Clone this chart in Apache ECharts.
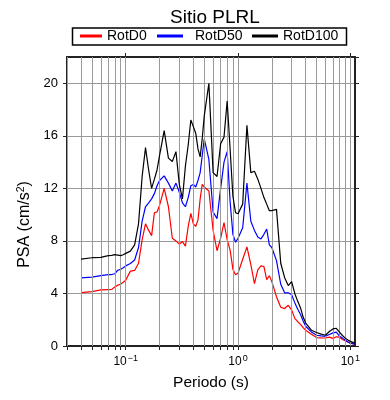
<!DOCTYPE html>
<html><head><meta charset="utf-8">
<script src="https://cdn.jsdelivr.net/npm/echarts@6/dist/echarts.min.js"></script>
<style>html,body{margin:0;padding:0;background:#fff}#c{width:390px;height:400px}</style>
</head><body><div id="c"></div>
<script>
const periods = [0.04,0.05,0.06,0.07,0.075,0.08,0.085,0.09,0.095,
  0.1,0.11,0.12,0.13,0.14,0.15,0.16,0.17,0.18,0.19,0.2,
  0.22,0.24,0.26,0.28,0.3,
  0.32,0.34,0.36,0.38,0.4,0.42,0.44,0.46,0.48,0.5,
  0.55,0.6,0.65,0.7,0.75,0.8,0.85,0.9,0.95,1.0,
  1.1,1.2,1.3,1.4,1.5,1.6,1.7,1.8,1.9,2.0,
  2.2,2.4,2.6,2.8,3.0,3.2,3.4,3.6,3.8,4.0,
  4.5,5.0,5.5,6.0,6.5,7.0,7.5,8.0,8.5,9.0,9.5,10,11];
const rotd0 = [4.06,4.14,4.27,4.29,4.3,4.5,4.63,4.7,4.85,
  5.0,5.7,5.75,6.3,8.1,9.3,8.8,8.4,10.15,10.2,10.7,
  12.0,10.6,8.2,8.0,7.75,
  7.95,7.6,9.1,10.1,9.3,9.1,9.6,11.2,12.3,12.1,
  11.8,8.8,7.25,8.2,9.4,8.1,7.3,5.85,5.42,5.55,
  6.6,7.55,6.2,4.75,5.8,6.1,6.05,5.05,5.35,4.9,
  3.75,2.95,2.85,3.1,2.75,2.1,1.85,1.65,1.4,1.2,
  0.9,0.64,0.62,0.61,0.68,0.58,0.7,0.68,0.5,0.4,0.31,0.22,0.13];
const rotd50 = [5.19,5.24,5.36,5.43,5.44,5.5,5.77,5.83,5.95,
  6.1,6.28,6.55,7.5,9.5,10.6,10.9,11.2,11.6,12.2,12.6,
  12.95,12.4,11.8,12.4,11.7,
  10.9,10.6,11.3,12.2,12.3,12.1,12.6,13.2,14.5,15.76,
  14.2,10.2,9.7,12.0,14.0,14.8,11.0,8.5,7.9,8.2,
  9.0,12.4,9.5,8.8,8.3,8.15,8.5,8.9,7.7,7.5,
  6.5,4.7,4.05,4.05,3.9,3.3,2.8,2.4,1.9,1.5,
  1.07,0.82,0.77,0.74,0.88,1.0,1.05,0.75,0.6,0.45,0.31,0.22,0.13];
const rotd100 = [6.62,6.72,6.75,6.88,6.9,6.95,6.92,6.88,6.95,
  7.05,7.22,7.7,9.3,12.9,15.1,13.4,12.0,12.7,13.4,14.5,
  16.4,14.3,14.05,14.8,12.3,
  11.2,13.7,15.3,17.2,16.7,16.2,15.0,14.4,15.8,17.5,
  20.0,13.2,12.9,15.4,15.9,18.65,15.0,11.4,10.15,10.07,
  10.8,16.8,13.2,13.3,12.7,12.0,11.3,10.8,10.3,10.3,
  10.4,6.3,5.2,4.6,4.9,4.0,3.4,2.9,2.2,1.75,
  1.2,1.03,0.9,0.82,1.1,1.3,1.35,1.05,0.8,0.6,0.45,0.35,0.22];
const seriesNames = ['RotD0','RotD50','RotD100'];
const gridPeriods = [0.03,0.04,0.05,0.06,0.07,0.08,0.09,0.1,0.2,0.3,0.4,0.5,0.6,0.7,0.8,0.9,1,2,3,4,5,6,7,8,9,10];
const xLabelValues = [0.1, 1, 10];
const xLabelTexts = ['10{sup|\u22121}', '10{sup|0}', '10{sup|1}'];

const FONT = '"Liberation Sans", Arial, Helvetica, sans-serif';
const FRAME = '#222';
const GRIDC = '#9a9a9a';
const pair = arr => periods.map((p, i) => [p, arr[i]]);
function xLabel(v) {
  for (let i = 0; i < xLabelValues.length; i++) {
    if (Math.abs(Math.log10(v) - Math.log10(xLabelValues[i])) < 1e-6) return xLabelTexts[i];
  }
  return '';
}
const legendBase = {
  top: 29, icon: 'rect', itemWidth: 24, itemHeight: 3, padding: 0,
  textStyle: {fontFamily: FONT, fontSize: 14, color: '#000'}
};
const chart = echarts.init(document.getElementById('c'), null, {renderer: 'canvas'});
const option = {
  animation: false,
  backgroundColor: '#fff',
  title: {text: 'Sitio PLRL', left: 165, top: 3,
    textStyle: {fontFamily: FONT, fontSize: 19, fontWeight: 'normal', color: '#000'}},
  legend: [
    Object.assign({}, legendBase, {data: [seriesNames[0]], left: 80, itemWidth: 22}),
    Object.assign({}, legendBase, {data: [{name: seriesNames[1], textStyle: {padding: [0, 0, 0, 7]}}], left: 157, itemWidth: 26}),
    Object.assign({}, legendBase, {data: [seriesNames[2]], left: 252, itemWidth: 26})
  ],
  graphic: [{type: 'rect', z: 100, shape: {x: 72.5, y: 28, width: 274, height: 17},
    style: {fill: 'none', stroke: '#000', lineWidth: 1.5}}],
  grid: {left: 67, right: 35, top: 57, bottom: 54},
  xAxis: [
    {type: 'log', min: 0.03, max: 11, position: 'bottom',
     axisLine: {show: true, onZero: false, lineStyle: {color: FRAME, width: 2}},
     axisTick: {show: true, inside: false, length: 4, customValues: gridPeriods, lineStyle: {color: FRAME}},
     axisLabel: {customValues: xLabelValues, formatter: xLabel,
       margin: 8, color: '#000', fontFamily: FONT, fontSize: 12,
       rich: {sup: {fontSize: 9, verticalAlign: 'top', fontFamily: FONT, color: '#000', padding: [0, 0, 6, 1]}}},
     splitLine: {show: false},
     name: 'Periodo (s)', nameLocation: 'middle', nameGap: 29,
     nameTextStyle: {fontFamily: FONT, fontSize: 15.5, color: '#000'}},
    {type: 'log', min: 0.03, max: 11, position: 'top',
     axisLine: {show: true, onZero: false, lineStyle: {color: FRAME, width: 2}},
     axisTick: {show: true, inside: false, length: 4, customValues: xLabelValues, lineStyle: {color: FRAME}},
     axisLabel: {show: false}, splitLine: {show: false}}
  ],
  yAxis: [
    {type: 'value', min: 0, max: 22, interval: 4, position: 'left',
     axisLine: {show: true, onZero: false, lineStyle: {color: FRAME, width: 2}},
     axisTick: {show: true, inside: false, length: 4, lineStyle: {color: FRAME}},
     axisLabel: {showMaxLabel: false, margin: 9, color: '#000', fontFamily: FONT, fontSize: 13},
     splitLine: {show: true, lineStyle: {color: GRIDC, width: 1}},
     name: 'PSA (cm/s{sup|2})', nameLocation: 'middle', nameGap: 31,
     nameTextStyle: {fontFamily: FONT, fontSize: 16, color: '#000', padding: [0, 46, 0, 0],
       rich: {sup: {fontSize: 10.5, verticalAlign: 'top', fontFamily: FONT, color: '#000', padding: [0, 0, 7, 0]}}}},
    {type: 'value', min: 0, max: 22, interval: 4, position: 'right',
     axisLine: {show: true, onZero: false, lineStyle: {color: FRAME, width: 2}},
     axisTick: {show: true, inside: false, length: 4, lineStyle: {color: FRAME}},
     axisLabel: {show: false}, splitLine: {show: false}}
  ],
  series: [
    {type: 'line', name: '_grid', data: [], silent: true, z: 1,
     markLine: {silent: true, symbol: ['none', 'none'], label: {show: false}, animation: false,
       lineStyle: {color: GRIDC, width: 1, type: 'solid'},
       emphasis: {disabled: true},
       data: gridPeriods.map(v => ({xAxis: v}))}},
    {type: 'line', name: seriesNames[0], data: pair(rotd0), symbol: 'none', z: 3,
     color: '#ff0000', lineStyle: {color: '#ff0000', width: 1.2}},
    {type: 'line', name: seriesNames[1], data: pair(rotd50), symbol: 'none', z: 4,
     color: '#0000ff', lineStyle: {color: '#0000ff', width: 1.2}},
    {type: 'line', name: seriesNames[2], data: pair(rotd100), symbol: 'none', z: 5,
     color: '#000000', lineStyle: {color: '#000000', width: 1.2}}
  ]
};
chart.setOption(option);
</script>
</body></html>
